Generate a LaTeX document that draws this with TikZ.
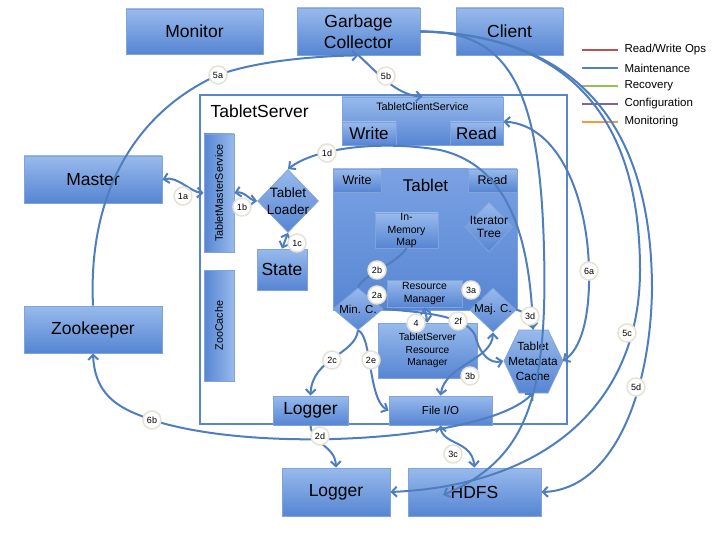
\documentclass[tikz,border=0pt]{standalone}
\usepackage{fontspec}
\setmainfont{Liberation Sans}
\usetikzlibrary{arrows.meta,shapes.geometric}
\definecolor{boxtop}{RGB}{152,186,236}
\definecolor{boxbot}{RGB}{86,133,211}
\definecolor{boxedge}{RGB}{128,163,218}
\definecolor{tabtop}{RGB}{122,162,227}
\definecolor{tabbot}{RGB}{88,134,211}
\definecolor{tsedge}{RGB}{88,134,205}
\definecolor{linkc}{RGB}{79,126,191}
\definecolor{tagedge}{RGB}{230,226,212}
\definecolor{rwc}{RGB}{192,80,77}
\definecolor{mtc}{RGB}{79,129,189}
\definecolor{rcc}{RGB}{155,187,89}
\definecolor{cfc}{RGB}{128,100,162}
\definecolor{mnc}{RGB}{247,150,70}
\newcommand{\fsz}[2]{\fontsize{#1}{#2}\selectfont}

\begin{document}
\begin{tikzpicture}[x=1pt, y=-1pt, >={Straight Barb[length=5pt,width=10pt]},
	box/.style = {draw=boxedge, line width=0.8pt, top color=boxtop, bottom color=boxbot, inner sep=0pt, align=center},
	big/.style = {box, font=\fsz{17.5}{21}},
	dia/.style = {diamond, draw=boxedge, line width=0.8pt, top color=boxtop, bottom color=boxbot, inner sep=0pt},
	link/.style = {draw=linkc, line width=2pt},
	tag/.style = {circle, draw=tagedge, line width=1.5pt, fill=white, inner sep=0pt, minimum size=18pt, font=\fsz{9}{10}}]
			\useasboundingbox (0,0) rectangle (720,540);
			\node[big, minimum width=137pt, minimum height=45pt] (monitor) at (194.5,31.5) {Monitor};
			\node[big, minimum width=123pt, minimum height=47pt] (gc) at (358.5,31.5) {Garbage\\Collector};
			\node[big, minimum width=107pt, minimum height=47pt] (client) at (509.5,31.5) {Client};
			\node[big, minimum width=138pt, minimum height=47pt] (master) at (93,179.5) {Master};
			\node[big, minimum width=138pt, minimum height=47pt] (zookeeper) at (93,329.5) {Zookeeper};
			\node[draw=tsedge, line width=1.5pt, fill=white, minimum width=367pt, minimum height=329pt, inner sep=0pt] (tserver) at (383.5,259.5) {};
			\node[anchor=west, font=\fsz{17.5}{21}] (tslabel) at (207,111) {TabletServer};
			\node[box, minimum width=161pt, minimum height=48pt] (tcs) at (422.5,121) {};
			\node[font=\fsz{10.8}{13}] (tcslabel) at (422.5,107) {TabletClientService};
			\node[box, minimum width=54pt, minimum height=23pt, font=\fsz{17}{20}] (tcswrite) at (369,133.5) {Write};
			\node[box, minimum width=53pt, minimum height=23pt, font=\fsz{17}{20}] (tcsread) at (476.5,133.5) {Read};
			\node[box, left color=boxbot, right color=boxtop, minimum width=30pt, minimum height=118pt, font=\fsz{10.8}{13}] (tms) at (219,193) {\rotatebox{90}{TabletMasterService}};
			\node[box, left color=boxbot, right color=boxtop, minimum width=30pt, minimum height=111pt, font=\fsz{10.8}{13}] (zoocache) at (219,325.5) {\rotatebox{90}{ZooCache}};
			\node[dia, minimum width=61pt, minimum height=63pt, label={[font=\fsz{13.5}{17}, align=center]center:Tablet\\Loader}] (loader) at (288,201) {};
			\node[big, minimum width=50pt, minimum height=41pt] (state) at (282,269.5) {State};
			\node[box, top color=tabtop, bottom color=tabbot, minimum width=184pt, minimum height=141pt] (tablet) at (425,239.5) {};
			\node[font=\fsz{17}{20}] (tabletlabel) at (425.5,185) {Tablet};
			\node[box, minimum width=48pt, minimum height=23pt, font=\fsz{12.5}{15}] (twrite) at (357,180.5) {Write};
			\node[box, minimum width=49pt, minimum height=23pt, font=\fsz{12.5}{15}] (tread) at (492.5,180.5) {Read};
			\node[box, minimum width=63pt, minimum height=35pt, font=\fsz{10.5}{12.5}] (memmap) at (406.5,230.5) {In-\\Memory\\Map};
			\node[dia, minimum width=48pt, minimum height=50pt, label={[font=\fsz{12}{13.5}, align=center]center:Iterator\\Tree}] (itree) at (489,227) {};
			\node[box, minimum width=75pt, minimum height=27pt, font=\fsz{10.5}{12.5}] (resmgr) at (424.5,293.5) {Resource\\Manager};
			\node[dia, minimum width=50pt, minimum height=42pt, label={[font=\fsz{11.5}{14}]center:Min. C.}] (minc) at (358,309) {};
			\node[dia, minimum width=46pt, minimum height=44pt, label={[font=\fsz{11.5}{14}]center:Maj. C.}] (majc) at (493,310) {};
			\node[box, minimum width=99pt, minimum height=55pt, font=\fsz{10.2}{12.5}] (tsrm) at (427.5,350.5) {TabletServer\\Resource\\Manager};
			\path[draw=boxedge, line width=0.8pt, top color=boxtop, bottom color=boxbot] (504,361) -- (519,330) -- (548,330) -- (563,361) -- (548,393) -- (519,393) -- cycle;
			\node[minimum width=59pt, minimum height=63pt, inner sep=0pt, align=center, font=\fsz{11.8}{15}] (tmc) at (533,361) {Tablet\\Metadata\\Cache};
			\node[big, minimum width=75pt, minimum height=29pt] (logger1) at (310.5,410.5) {Logger};
			\node[box, minimum width=103pt, minimum height=29pt, font=\fsz{11.5}{14}] (fileio) at (440.5,410.5) {File I/O};
			\node[big, minimum width=108pt, minimum height=48pt] (logger2) at (336,492) {Logger};
			\node[big, minimum width=133pt, minimum height=48pt] (hdfs) at (474.5,492) {HDFS};
			\foreach \lc/\lt [count=\i] in {rwc/{Read/Write Ops}, mtc/Maintenance, rcc/Recovery, cfc/Configuration, mnc/Monitoring} {
				\coordinate (la\i) at (582,32+18*\i);
				\coordinate (lb\i) at (618,32+18*\i);
				\draw[\lc, line width=2.5pt] (la\i) -- (lb\i);
				\node[anchor=west, font=\fsz{11.5}{13}] (lt\i) at (621,32+18*\i) {\lt};
			}
			\coordinate (c1a) at (183,196);
			\coordinate (c1b) at (242,207);
			\coordinate (c1c) at (297,243);
			\coordinate (c1d) at (327,153);
			\coordinate (c2a) at (377,295);
			\coordinate (c2b) at (377,270);
			\coordinate (c2c) at (332,360);
			\coordinate (c2d) at (320,436);
			\coordinate (c2e) at (371,360);
			\coordinate (c2f) at (458,321);
			\coordinate (c3a) at (471,290);
			\coordinate (c3b) at (470,376);
			\coordinate (c3c) at (453,454);
			\coordinate (c3d) at (530,316);
			\coordinate (c4) at (416,323);
			\coordinate (c5a) at (218,75);
			\coordinate (c5b) at (386,76);
			\coordinate (c5c) at (627,333);
			\coordinate (c5d) at (636,387);
			\coordinate (c6a) at (589,271);
			\coordinate (c6b) at (152,420);
			\coordinate (hdfsin) at (443,495);
			\draw[link, <->] (master.east) .. controls (178,176) and (190,192) .. (tms.west);
			\draw[link, <->] (loader.west) .. controls (250,200) and (244,191) .. (tms.east);
			\draw[link, <->] (loader.south) -- (state.north);
			\draw[link, ->] (tmc.north) .. controls (530,230) and (505,165) .. (440,150) .. controls (380,140) and (315,148) .. (loader.north);
			\draw[link] (minc.north east) -- (resmgr.west);
			\draw[link] (minc.north) .. controls (362,275) and (395,265) .. (memmap.south);
			\draw[link, ->] (minc.south) .. controls (355,355) and (312,358) .. (logger1.north);
			\draw[link, ->] (logger1.south) .. controls (312,445) and (335,445) .. (logger2.north);
			\draw[link, ->] (minc.south) .. controls (372,335) and (368,400) .. (fileio.west);
			\draw[link, ->] (minc.east) .. controls (420,312) and (465,315) .. (475,335) .. controls (480,355) and (490,364) .. (tmc.west);
			\draw[link] (resmgr.east) -- (majc.north west);
			\draw[link, <->] (majc.south) .. controls (492,360) and (445,365) .. (fileio.north);
			\draw[link, <->] (fileio.south) .. controls (442,445) and (472,440) .. (hdfs.north);
			\draw[link, ->] (majc.east) .. controls (522,310) and (532,318) .. (tmc.north);
			\draw[link, <->] (resmgr.south) -- (tsrm.north);
			\draw[link, ->] (zookeeper.north) .. controls (88,200) and (130,115) .. (c5a) .. controls (260,60) and (320,56) .. (gc.south);
			\draw[link, ->] (gc.south) .. controls (375,70) and (395,95) .. (tcs.north);
			\draw[link, ->] (gc.east) .. controls (580,35) and (640,130) .. (640,270) .. controls (640,400) and (550,485) .. (logger2.east);
			\draw[link, ->] (gc.east) .. controls (590,35) and (652,140) .. (652,290) .. controls (650,400) and (610,490) .. (hdfs.east);
			\draw[link, ->] (gc.east) .. controls (510,30) and (540,90) .. (544,250) .. controls (548,400) and (525,460) .. (hdfsin);
			\draw[link, <->] (tcsread.north east) .. controls (560,125) and (588,200) .. (c6a) .. controls (590,320) and (580,350) .. (tmc.east);
			\draw[link, <->] (zookeeper.south) .. controls (95,400) and (125,410) .. (c6b) .. controls (260,455) and (490,440) .. (tmc.south);
			\foreach \n in {1a,1b,1c,1d,2a,2b,2c,2d,2e,2f,3a,3b,3c,3d,4,5a,5b,5c,5d,6a,6b}
				\node[tag] (t\n) at (c\n) {\n};
		\end{tikzpicture}
\end{document}
